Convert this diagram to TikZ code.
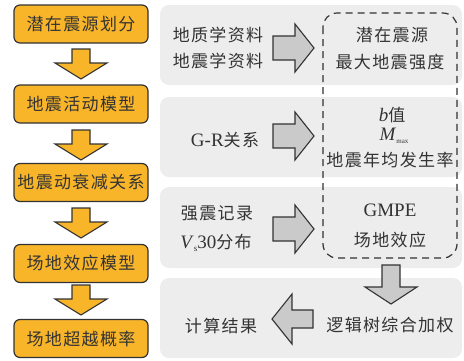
\documentclass[tikz,border=0pt]{standalone}
\usepackage{fontspec}
\setmainfont{Liberation Serif}
\newfontfamily\cjk[LetterSpace=8]{Noto Sans CJK SC}
\definecolor{orangefill}{HTML}{F8B52A}
\definecolor{panelgray}{HTML}{EDEDED}
\definecolor{arrowgray}{HTML}{CACACA}
\definecolor{inkdark}{HTML}{333333}
\tikzset{
  stepbox/.style={draw=inkdark, line width=1.2pt, fill=orangefill, rounded corners=6pt},
  panel/.style={fill=panelgray, rounded corners=9pt},
  orangearrow/.style={draw=inkdark, line width=1.1pt, fill=orangefill, line join=miter},
  grayarrow/.style={draw=inkdark, line width=1.1pt, fill=arrowgray, line join=miter},
  lefttxt/.style={font=\fontsize{17}{17}\selectfont\cjk, text=inkdark, inner sep=0pt},
  txt/.style={font=\fontsize{19}{19}\selectfont, text=inkdark, inner sep=0pt},
  dashbox/.style={draw=inkdark, line width=1.2pt, dash pattern=on 7pt off 5pt, rounded corners=14pt}
}
\begin{document}
\begin{tikzpicture}[x=1pt,y=-1pt]
\useasboundingbox (0,0) rectangle (464,360);
% right panels
\fill[panel] (160,5) rectangle (462,85);
\fill[panel] (160,97) rectangle (462,177);
\fill[panel] (160,187) rectangle (462,268);
\fill[panel] (160,278) rectangle (462,358);
% left boxes
\foreach \yc/\nm/\t in {24/s1/潜在震源划分, 104/s2/地震活动模型, 182.5/s3/地震动衰减关系, 263.5/s4/场地效应模型, 338.5/s5/场地超越概率}{
  \draw[stepbox] (14,\yc-19) rectangle (148,\yc+19);
  \node[lefttxt] (\nm) at (81,\yc) {\t};
}
% left down arrows
\foreach \tp in {49,130,208,285}{
  \draw[orangearrow] (72,\tp) -- (90,\tp) -- (90,\tp+14) -- (107,\tp+14) -- (81,\tp+30)
    -- (55,\tp+14) -- (72,\tp+14) -- cycle;
}
% right arrows
\foreach \yc in {48,136,229}{
  \draw[grayarrow] (273,\yc-12) -- (295,\yc-12) -- (295,\yc-24) -- (314,\yc) -- (295,\yc+24)
    -- (295,\yc+12) -- (273,\yc+12) -- cycle;
}
% down gray arrow
\draw[grayarrow] (382,265) -- (400,265) -- (400,287) -- (417,287) -- (391,304) -- (365,287) -- (382,287) -- cycle;
% left gray arrow
\draw[grayarrow] (313,310) -- (292,310) -- (292,294) -- (272,319) -- (292,344) -- (292,328) -- (313,328) -- cycle;
% dashed box
\draw[dashbox] (323,13) rectangle (457,258);
% texts panel 1
\node[lefttxt] (p1a) at (218,35) {地质学资料};
\node[lefttxt] (p1b) at (218,61) {地震学资料};
\node[lefttxt] (r1a) at (392,35) {潜在震源};
\node[lefttxt] (r1b) at (390,62) {最大地震强度};
% panel 2
\node[txt] (p2a) at (225,140) {G-R{\fontsize{17}{17}\selectfont\cjk 关系}};
\node[txt] (r2a) at (392,115) {\textit{b}{\fontsize{17}{17}\selectfont\cjk 值}};
\node[txt] (r2b) at (394,136) {\textit{M}\raisebox{-3pt}{\fontsize{7}{7}\selectfont max}};
\node[lefttxt] (r2c) at (390,160) {地震年均发生率};
% panel 3
\node[lefttxt] (p3a) at (217,213) {强震记录};
\node[txt] (p3b) at (216,243) {\textit{V}\raisebox{-3pt}{\fontsize{9}{9}\selectfont s}30{\fontsize{17}{17}\selectfont\cjk 分布}};
\node[txt] (r3a) at (390,210) {GMPE};
\node[lefttxt] (r3b) at (390,240) {场地效应};
% panel 4
\node[lefttxt] (r4a) at (390,325) {逻辑树综合加权};
\node[lefttxt] (p4a) at (221,326) {计算结果};
\end{tikzpicture}
\end{document}
